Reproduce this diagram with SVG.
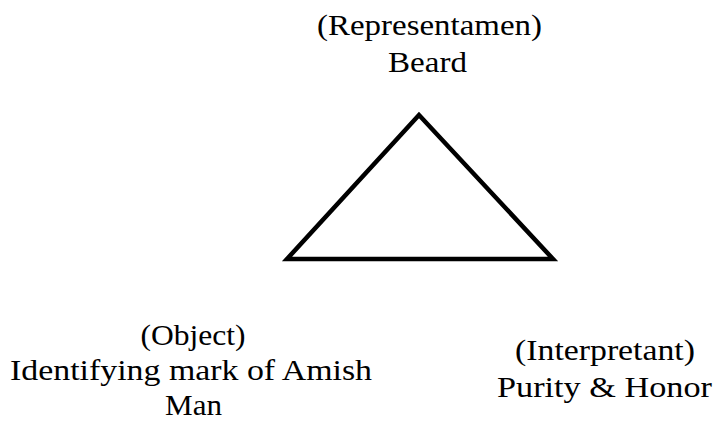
<svg xmlns="http://www.w3.org/2000/svg" width="713" height="421" viewBox="0 0 713 421">
<style>
.t{font-family:"Liberation Serif","Times New Roman",serif;font-size:30px;fill:#000;text-anchor:middle}
.tri{fill:#fff;stroke:#000;stroke-width:4.5;stroke-linejoin:miter}
</style>
<rect width="713" height="421" fill="#fff"/>
<g id="connectors">
<polygon class="tri" points="419,115 287,259 553,259"/>
</g>
<g id="representamen">
<text class="t" x="429.5" y="35" textLength="225" lengthAdjust="spacingAndGlyphs">(Representamen)</text>
<text class="t" x="427.5" y="72" textLength="79" lengthAdjust="spacingAndGlyphs">Beard</text>
</g>
<g id="object">
<text class="t" x="193" y="345" textLength="105" lengthAdjust="spacingAndGlyphs">(Object)</text>
<text class="t" x="191" y="380" textLength="362" lengthAdjust="spacingAndGlyphs">Identifying mark of Amish</text>
<text class="t" x="193.5" y="415" textLength="57" lengthAdjust="spacingAndGlyphs">Man</text>
</g>
<g id="interpretant">
<text class="t" x="605" y="360" textLength="180" lengthAdjust="spacingAndGlyphs">(Interpretant)</text>
<text class="t" x="604.5" y="397" textLength="215" lengthAdjust="spacingAndGlyphs">Purity &amp; Honor</text>
</g>
</svg>
